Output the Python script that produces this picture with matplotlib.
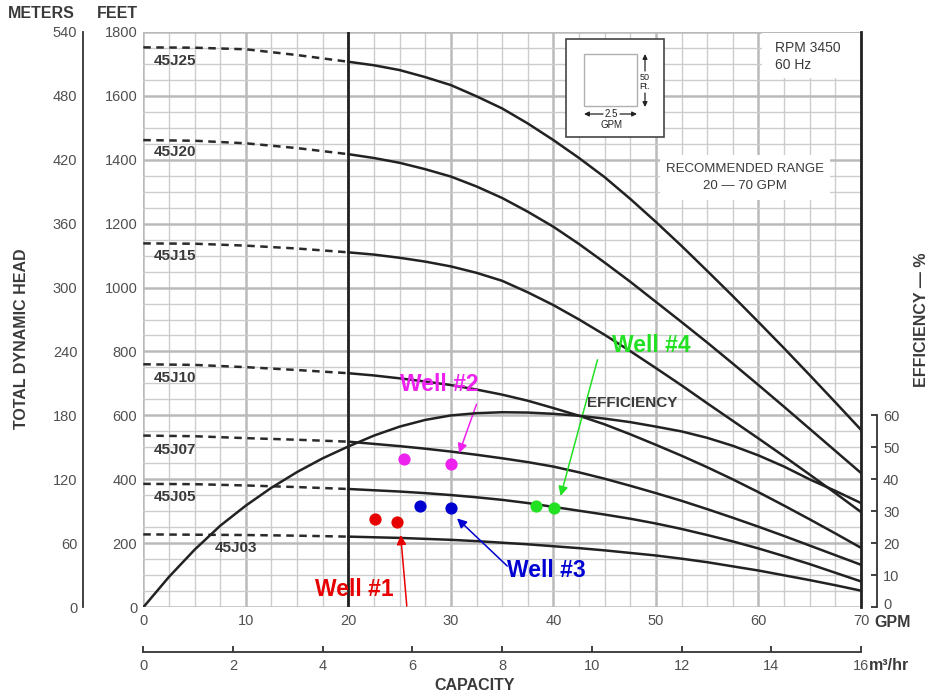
import matplotlib
matplotlib.use("Agg")
import matplotlib.pyplot as plt
import matplotlib.transforms as mtrans
from matplotlib.patches import Rectangle
import numpy as np

plt.rcParams['font.family'] = ['Liberation Sans', 'DejaVu Sans']

# ---------------- data ----------------
gpm_dash = [0, 5, 10, 15, 20]
gpm_solid = [20, 22.5, 25, 27.5, 30, 32.5, 35, 37.5, 40, 42.5, 45,
             47.5, 50, 52.5, 55, 57.5, 60, 62.5, 65, 67.5, 70]

models = ["45J25", "45J20", "45J15", "45J10", "45J07", "45J05", "45J03"]
head_dash = {
    "45J25": [1751, 1750, 1745, 1727, 1706],
    "45J20": [1461, 1459, 1451, 1436, 1417],
    "45J15": [1138, 1137, 1131, 1122, 1110],
    "45J10": [760, 758, 751, 742, 732],
    "45J07": [537, 535, 529, 524, 518],
    "45J05": [386, 385, 381, 376, 370],
    "45J03": [228, 227, 226, 224, 221],
}
head_solid = {
    "45J25": [1706, 1695, 1680, 1658, 1633, 1598, 1560, 1513, 1461, 1405, 1345,
              1277, 1205, 1130, 1052, 973, 892, 810, 726, 641, 555],
    "45J20": [1417, 1405, 1390, 1370, 1347, 1316, 1280, 1237, 1190, 1136, 1078,
              1018, 955, 892, 828, 762, 695, 627, 558, 489, 420],
    "45J15": [1110, 1103, 1093, 1081, 1066, 1046, 1021, 985, 945, 900, 852,
              801, 748, 694, 638, 583, 528, 472, 415, 357, 298],
    "45J10": [732, 725, 716, 706, 695, 681, 665, 646, 623, 599, 572,
              541, 508, 474, 438, 400, 360, 318, 275, 231, 186],
    "45J07": [518, 511, 504, 496, 487, 477, 466, 454, 440, 422, 402,
              380, 357, 333, 307, 280, 252, 223, 193, 163, 133],
    "45J05": [370, 366, 362, 357, 351, 344, 336, 326, 314, 302, 290,
              277, 262, 245, 226, 206, 184, 160, 135, 108, 81],
    "45J03": [221, 219, 217, 214, 211, 207, 202, 197, 191, 185, 178,
              170, 162, 152, 141, 128, 115, 100, 85, 69, 52],
}
label_pos = {  # (gpm, feet) of model labels
    "45J25": (1.0, 1709), "45J20": (1.0, 1423), "45J15": (1.0, 1100),
    "45J10": (1.0, 716), "45J07": (1.0, 492), "45J05": (1.0, 344),
    "45J03": (7.0, 185),
}

gpm_eff = [0, 2.5, 5, 7.5, 10, 12.5, 15, 17.5, 20, 22.5, 25, 27.5, 30, 32.5, 35,
           37.5, 40, 42.5, 45, 47.5, 50, 52.5, 55, 57.5, 60, 62.5, 65, 67.5, 70]
efficiency = [0, 9.5, 18, 25.5, 31.8, 37.4, 42.3, 46.6, 50.3, 53.7, 56.5, 58.6, 60, 60.7, 61,
              60.9, 60.5, 59.9, 59, 57.9, 56.5, 55, 53, 50.5, 47.5, 44, 40, 36.4, 32.6]

wells = ["Well #1", "Well #2", "Well #3", "Well #4"]
well_colors = ["#e60000", "#ee22ee", "#0000d0", "#22e022"]
well_gpm = [[22.6, 24.7], [25.4, 30.0], [27.0, 30.0], [38.3, 40.1]]
well_head = [[275, 266], [464, 449], [318, 310], [317, 310]]
well_text_pos = [(20.6, 57), (28.9, 696), (39.3, 114), (49.5, 818)]
well_arrow_tail = [(25.7, 4), (32.5, 635), (35.5, 129), (44.3, 774)]
well_arrow_head = [(25.1, 226), (30.8, 482), (30.6, 278), (40.7, 348)]

gpm_ticks = [0, 10, 20, 30, 40, 50, 60, 70]
feet_ticks = [0, 200, 400, 600, 800, 1000, 1200, 1400, 1600, 1800]
meter_ticks = [0, 60, 120, 180, 240, 300, 360, 420, 480, 540]
m3hr_ticks = [0, 2, 4, 6, 8, 10, 12, 14, 16]
eff_ticks = [0, 10, 20, 30, 40, 50, 60]

# ---------------- figure ----------------
W, H = 928, 696
DPI = 100
PT = 72.0 / DPI  # points per pixel
fig = plt.figure(figsize=(W / DPI, H / DPI), dpi=DPI)
L, R, B, T = 143.3, 861.0, 607.3, 31.7
ax = fig.add_axes([L / W, 1 - B / H, (R - L) / W, (B - T) / H])

TXT = "#3a3a3a"
TICK = "#505050"
TFS = 10.5   # tick font size
HFS = 11.5   # header font size

ax.set_xlim(0, 70)
ax.set_ylim(0, 1800)
ax.set_xticks(gpm_ticks)
ax.set_xticks(np.arange(0, 70.01, 2.5), minor=True)
ax.set_yticks(feet_ticks)
ax.set_yticks(np.arange(0, 1800.1, 50), minor=True)
ax.grid(which='minor', color='#cdcdcd', lw=1.0)
ax.grid(which='major', color='#bababa', lw=1.8)
ax.set_axisbelow(True)
ax.tick_params(which='both', length=0)
ax.tick_params(axis='y', pad=6 * PT, labelsize=TFS, labelcolor=TICK)
ax.tick_params(axis='x', pad=7 * PT, labelsize=TFS, labelcolor=TICK)
for s in ['left', 'top', 'bottom']:
    ax.spines[s].set_visible(False)
ax.spines['right'].set_color('#222222')
ax.spines['right'].set_linewidth(2.0)
ax.axvline(20, color='#222222', lw=2.0, zorder=3)

# pump curves
for m in models:
    ax.plot(gpm_dash, head_dash[m], color='#2a2a2a', lw=1.8, ls=(0, (3, 2.2)), zorder=4)
    ax.plot(gpm_solid, head_solid[m], color='#222222', lw=1.8, zorder=4,
            solid_joinstyle='round')
    gx, gy = label_pos[m]
    ax.text(gx, gy, m, fontsize=11, fontweight='bold', color=TXT,
            ha='left', va='center', zorder=5)

# efficiency axis
ax_e = ax.twinx()
ax_e.set_ylim(0, 180)
ax_e.plot(gpm_eff, efficiency, color='#222222', lw=1.8, zorder=4,
          solid_joinstyle='round')
for s in ['left', 'top', 'bottom']:
    ax_e.spines[s].set_visible(False)
ax_e.spines['right'].set_position(('outward', 16 * PT))
ax_e.spines['right'].set_bounds(0, 60)
ax_e.spines['right'].set_color('#333333')
ax_e.spines['right'].set_linewidth(1.3)
ax_e.set_yticks(eff_ticks)
ax_e.tick_params(axis='y', direction='in', length=6 * PT, width=1.3, color='#333333',
                 pad=6 * PT, labelsize=TFS, labelcolor=TICK)
ax_e.set_ylabel("EFFICIENCY — %", fontsize=HFS, fontweight='bold', color=TXT)
ax_e.yaxis.set_label_coords(1 + (921 - R) / (R - L), 1 - (320 - T) / (B - T))
ax_e.yaxis.label.set_va('center')
ax_e.yaxis.label.set_ha('center')
zero_lbl = ax_e.yaxis.get_major_ticks()[0].label2
zero_lbl.set_transform(zero_lbl.get_transform() +
                       mtrans.ScaledTranslation(0, 4 / DPI, fig.dpi_scale_trans))

# meters axis
ax_m = ax.twinx()
ax_m.set_ylim(0, 540)
for s in ['right', 'top', 'bottom']:
    ax_m.spines[s].set_visible(False)
ax_m.spines['left'].set_position(('outward', 60 * PT))
ax_m.spines['left'].set_color('#333333')
ax_m.spines['left'].set_linewidth(1.3)
ax_m.yaxis.set_ticks_position('left')
ax_m.yaxis.set_label_position('left')
ax_m.set_yticks(meter_ticks)
ax_m.set_yticks([0, 540], minor=True)
ax_m.tick_params(axis='y', which='major', length=0, pad=6 * PT, labelsize=TFS,
                 labelcolor=TICK)
ax_m.tick_params(axis='y', which='minor', direction='in', length=6 * PT, width=1.3,
                 color='#333333')
ax_m.set_ylabel("TOTAL DYNAMIC HEAD", fontsize=HFS, fontweight='bold', color=TXT)
ax_m.yaxis.set_label_coords(-(L - 22) / (R - L), 1 - (339 - T) / (B - T))
ax_m.yaxis.label.set_va('center')
ax_m.yaxis.label.set_ha('center')

# capacity axis (m3/hr)
ax_c = ax.twiny()
ax_c.set_xlim(0, 16)
for s in ['right', 'top', 'left']:
    ax_c.spines[s].set_visible(False)
ax_c.xaxis.set_ticks_position('bottom')
ax_c.xaxis.set_label_position('bottom')
ax_c.spines['bottom'].set_position(('outward', 45 * PT))
ax_c.spines['bottom'].set_color('#333333')
ax_c.spines['bottom'].set_linewidth(1.3)
ax_c.set_xticks(m3hr_ticks)
ax_c.tick_params(axis='x', direction='in', length=6 * PT, width=1.3, color='#333333',
                 pad=7 * PT, labelsize=TFS, labelcolor=TICK)
ax_c.set_xlabel("CAPACITY", fontsize=HFS, fontweight='bold', color=TXT)
ax_c.xaxis.set_label_coords((475 - L) / (R - L), -(686 - B) / (B - T))
ax_c.xaxis.label.set_va('center')

# wells
for i, w in enumerate(wells):
    c = well_colors[i]
    ax.plot(well_gpm[i], well_head[i], 'o', color=c, ms=8.8, mec='none', zorder=6)
    ax.annotate("", xy=well_arrow_head[i], xytext=well_arrow_tail[i],
                arrowprops=dict(arrowstyle='-|>', color=c, lw=1.1,
                                mutation_scale=14, shrinkA=0, shrinkB=0),
                zorder=6)
    tx, ty = well_text_pos[i]
    ax.text(tx, ty, w, color=c, fontsize=16.5, fontweight='bold',
            ha='center', va='center', zorder=7)

ax.text(47.7, 638, "EFFICIENCY", fontsize=11, fontweight='bold', color=TXT,
        ha='center', va='center', zorder=5)


# ---------------- decorations in pixel coordinates ----------------
def fx(px):
    return px / W


def fy(py):
    return 1 - py / H


fig.text(fx(8), fy(14), "METERS", fontsize=HFS, fontweight='bold', color=TXT,
         ha='left', va='center')
fig.text(fx(97), fy(14), "FEET", fontsize=HFS, fontweight='bold', color=TXT,
         ha='left', va='center')
fig.text(fx(874), fy(622.5), "GPM", fontsize=HFS, fontweight='bold', color=TXT,
         ha='left', va='center')
fig.text(fx(869), fy(666), "m³/hr", fontsize=HFS, fontweight='bold', color=TXT,
         ha='left', va='center')

# RPM box
fig.patches.append(Rectangle((fx(762), fy(78)), fx(860) - fx(762), fy(32.5) - fy(78),
                             transform=fig.transFigure, facecolor='white',
                             edgecolor='none', zorder=2))
fig.text(fx(775), fy(47.5), "RPM 3450", fontsize=10, color=TXT, ha='left',
         va='center', zorder=3)
fig.text(fx(775), fy(65), "60 Hz", fontsize=10, color=TXT, ha='left',
         va='center', zorder=3)

# recommended range box
fig.patches.append(Rectangle((fx(660), fy(200)), fx(830) - fx(660), fy(155) - fy(200),
                             transform=fig.transFigure, facecolor='white',
                             edgecolor='none', zorder=2))
fig.text(fx(745), fy(169), "RECOMMENDED RANGE", fontsize=9.5, color=TXT,
         ha='center', va='center', zorder=3)
fig.text(fx(745), fy(186), "20 — 70 GPM", fontsize=9.5, color=TXT,
         ha='center', va='center', zorder=3)

# scale key box
fig.patches.append(Rectangle((fx(566), fy(137)), fx(664) - fx(566), fy(39) - fy(137),
                             transform=fig.transFigure, facecolor='white',
                             edgecolor='#444444', lw=1.2, zorder=2))
fig.patches.append(Rectangle((fx(584), fy(106)), fx(637) - fx(584), fy(54) - fy(106),
                             transform=fig.transFigure, facecolor='white',
                             edgecolor='#b0b0b0', lw=1.0, zorder=3))
akw = dict(arrowstyle='-|>', color='#222222', lw=0.9, mutation_scale=7,
           shrinkA=0, shrinkB=0)
fig.add_artist(plt.Annotation("", xy=(fx(645), fy(54)), xytext=(fx(645), fy(71)),
                              xycoords='figure fraction', textcoords='figure fraction',
                              arrowprops=akw))
fig.add_artist(plt.Annotation("", xy=(fx(645), fy(107)), xytext=(fx(645), fy(93)),
                              xycoords='figure fraction', textcoords='figure fraction',
                              arrowprops=akw))
fig.text(fx(645), fy(82), "50\nFt.", fontsize=6.5, color='#222222', ha='center',
         va='center', linespacing=0.95, zorder=4)
fig.add_artist(plt.Annotation("", xy=(fx(584), fy(114)), xytext=(fx(603), fy(114)),
                              xycoords='figure fraction', textcoords='figure fraction',
                              arrowprops=akw))
fig.add_artist(plt.Annotation("", xy=(fx(637), fy(114)), xytext=(fx(620), fy(114)),
                              xycoords='figure fraction', textcoords='figure fraction',
                              arrowprops=akw))
fig.text(fx(611.5), fy(114), "2.5", fontsize=7, color='#222222', ha='center',
         va='center', zorder=4)
fig.text(fx(611.5), fy(125), "GPM", fontsize=7, color='#222222', ha='center',
         va='center', zorder=4)

fig.savefig("out.png", dpi=DPI, facecolor='white')
